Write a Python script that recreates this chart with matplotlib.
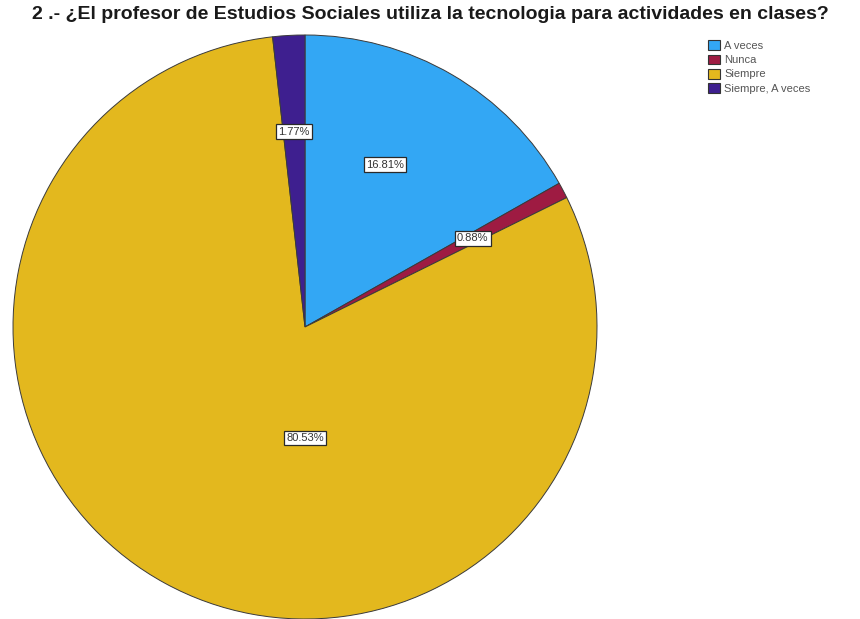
import numpy as np
import matplotlib; matplotlib.use("Agg")
import matplotlib.pyplot as plt
from matplotlib.patches import Patch

TITULO = "2 .- ¿El profesor de Estudios Sociales utiliza la tecnologia para actividades en clases?"
CATEGORIAS = ["A veces", "Nunca", "Siempre", "Siempre, A veces"]
PORCENTAJES = [16.81, 0.88, 80.53, 1.77]
COLORES = ["#33a7f4", "#9e1b42", "#e3b81e", "#3e1f8f"]

plt.rcParams["font.family"] = ["Liberation Sans", "DejaVu Sans"]

fig = plt.figure(figsize=(8.6, 6.19), dpi=100)
fig.patch.set_facecolor("white")

# circulo centrado en (305, 327) px, radio ~292 px
ax = fig.add_axes([13 / 860, 0.0, 584 / 860, 584 / 619])
cunas, _ = ax.pie(PORCENTAJES, colors=COLORES, startangle=90, counterclock=False,
                  radius=1.0, wedgeprops=dict(edgecolor="#3a3a3a", linewidth=0.7))
ax.set_xlim(-1, 1); ax.set_ylim(-1, 1)
ax.set_aspect("equal"); ax.axis("off")

# etiquetas cerca del angulo medio de cada sector
radios = [0.62, 0.65, 0.38, 0.67]
desvio = [4, 0, 0, 0]
for c, v, r, d in zip(cunas, PORCENTAJES, radios, desvio):
    ang = np.deg2rad((c.theta1 + c.theta2) / 2 + d)
    if v > 50:
        ang = np.deg2rad(-90)
    ax.text(r * np.cos(ang), r * np.sin(ang), format(v, ".2f") + "%",
            ha="center", va="center", fontsize=8, color="#333333",
            bbox=dict(boxstyle="square,pad=0.22", fc="white", ec="#2a2a2a", lw=0.9))

fig.text(0.5, 0.977, TITULO, ha="center", va="center", fontsize=14,
         fontweight="bold", color="#1a1a1a")

handles = [Patch(facecolor=col, edgecolor="#333333", linewidth=0.8) for col in COLORES]
fig.legend(handles, CATEGORIAS, loc="upper left", bbox_to_anchor=(704 / 860, 1 - 36 / 619),
           frameon=False, fontsize=8, handlelength=1.0, handleheight=1.0,
           handletextpad=0.4, labelspacing=0.3, borderaxespad=0,
           labelcolor="#555555")

fig.savefig("out.png", dpi=100, facecolor="white")
